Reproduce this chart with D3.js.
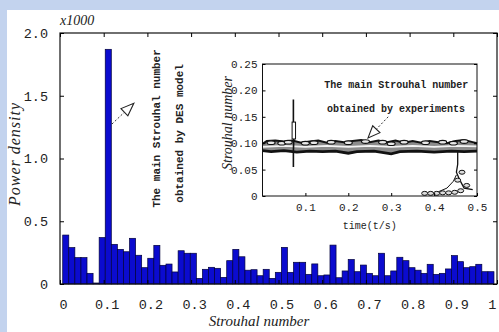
<!DOCTYPE html>
<html>
<head>
<meta charset="utf-8">
<script src="https://cdn.jsdelivr.net/npm/d3@7"></script>
<style>
  html, body { margin: 0; padding: 0; background: #c3d3ee; }
  svg { display: block; }
  .tick text { fill: #222; }
</style>
</head>
<body>
<svg id="chart" width="499" height="332"></svg>
<script>
// spectrum bins (power density, x1000)
const power = [
  0.39, 0.29, 0.21, 0.21, 0.085, 0.008, 0.37, 1.87, 0.316, 0.276,
  0.257, 0.364, 0.229, 0.13, 0.205, 0.308, 0.149, 0.159, 0.096, 0.265,
  0.245, 0.245, 0.045, 0.117, 0.133, 0.125, 0.053, 0.186, 0.276, 0.217,
  0.11, 0.114, 0.066, 0.117, 0.045, 0.093, 0.292, 0.093, 0.173, 0.173,
  0.077, 0.16, 0.066, 0.072, 0.31, 0.05, 0.104, 0.195, 0.098, 0.151,
  0.085, 0.066, 0.245, 0.066, 0.104, 0.213, 0.186, 0.13, 0.11, 0.085,
  0.157, 0.077, 0.085, 0.12, 0.226, 0.178, 0.13, 0.138, 0.157, 0.098, 0.098
];
const binStart = 0.0062;
const binWidth = 0.0139;
const xTicks = [0, 0.1, 0.2, 0.3, 0.4, 0.5, 0.6, 0.7, 0.8, 0.9, 1.0];
const yTicks = [0, 0.5, 1.0, 1.5, 2.0];

// inset: Strouhal number vs time (experiment)
const insetXTicks = [0.1, 0.2, 0.3, 0.4, 0.5];
const insetYTicks = [0, 0.05, 0.10, 0.15, 0.20, 0.25];
const bandTop = [
  [0.0, 0.099], [0.01, 0.104], [0.03, 0.105], [0.05, 0.103], [0.07, 0.105],
  [0.09, 0.101], [0.11, 0.103], [0.13, 0.105], [0.15, 0.101], [0.17, 0.104],
  [0.19, 0.102], [0.21, 0.104], [0.23, 0.106], [0.25, 0.102], [0.27, 0.105],
  [0.29, 0.102], [0.31, 0.105], [0.33, 0.101], [0.35, 0.104], [0.37, 0.101],
  [0.39, 0.104], [0.41, 0.102], [0.43, 0.100], [0.45, 0.104], [0.47, 0.106],
  [0.49, 0.102], [0.5, 0.100]
];
const bandBottom = [
  [0.0, 0.086], [0.02, 0.084], [0.05, 0.086], [0.08, 0.083], [0.11, 0.085],
  [0.14, 0.084], [0.17, 0.085], [0.2, 0.081], [0.22, 0.084], [0.26, 0.085],
  [0.3, 0.080], [0.32, 0.084], [0.36, 0.085], [0.4, 0.083], [0.44, 0.085],
  [0.47, 0.084], [0.5, 0.085]
];
const bandCenter = [
  [0.0, 0.093], [0.05, 0.095], [0.1, 0.093], [0.15, 0.095], [0.2, 0.093],
  [0.25, 0.095], [0.3, 0.093], [0.35, 0.095], [0.4, 0.093], [0.45, 0.095], [0.5, 0.094]
];
const spike = [[0.072, 0.055], [0.072, 0.085], [0.073, 0.11], [0.072, 0.14], [0.072, 0.183]];
const blobs = [
  [0.02, 0.101], [0.045, 0.1], [0.06, 0.102], [0.1, 0.1], [0.12, 0.101], [0.16, 0.102],
  [0.2, 0.101], [0.24, 0.103], [0.28, 0.102], [0.3, 0.099], [0.33, 0.102],
  [0.38, 0.101], [0.42, 0.102], [0.445, 0.1], [0.47, 0.103]
];
const tailRings = [
  [0.378, 0.005], [0.392, 0.005], [0.406, 0.005], [0.42, 0.006], [0.434, 0.006],
  [0.448, 0.007], [0.462, 0.01], [0.476, 0.02], [0.455, 0.03], [0.465, 0.045]
];
const tailLine = [[0.455, 0.084], [0.455, 0.06], [0.452, 0.045], [0.46, 0.03], [0.47, 0.015], [0.49, 0.012]];
const tailDiag = [[0.41, 0.008], [0.43, 0.015], [0.445, 0.028], [0.452, 0.04]];

const W = 499, H = 332;
const svg = d3.select("#chart");
const mono = "'Liberation Mono', 'DejaVu Sans Mono', monospace";
const serif = "'Liberation Serif', 'DejaVu Serif', serif";

// white panel
svg.append("rect").attr("x", 7).attr("y", 10)
  .attr("width", W - 7).attr("height", H - 10).attr("fill", "#fff");

const x = d3.scaleLinear().domain([0, 1]).range([60, 497]);
const y = d3.scaleLinear().domain([0, 2]).range([284, 33]);

// bars
svg.append("g").selectAll("rect").data(power).join("rect")
  .attr("x", (d, i) => x(binStart + i * binWidth))
  .attr("width", (d, i) => x(binStart + (i + 1) * binWidth) - x(binStart + i * binWidth))
  .attr("y", d => y(d))
  .attr("height", d => y(0) - y(d))
  .attr("fill", "#0b0bcf")
  .attr("stroke", "#00003a")
  .attr("stroke-width", 0.7);

// frame
svg.append("rect").attr("x", x(0)).attr("y", y(2))
  .attr("width", x(1) - x(0)).attr("height", y(0) - y(2))
  .attr("fill", "none").attr("stroke", "#111").attr("stroke-width", 1.2);

const fmt1 = d => d === 0 ? "0" : d3.format(".1f")(d);

const gx = svg.append("g").attr("transform", `translate(0,${y(0)})`)
  .call(d3.axisBottom(x).tickValues(xTicks).tickSizeInner(-4).tickSizeOuter(0)
    .tickPadding(15).tickFormat(fmt1));
gx.select(".domain").remove();
gx.selectAll("text").attr("dx", 3).style("font-family", mono).style("font-size", "13.5px");

const gxt = svg.append("g").attr("transform", `translate(0,${y(2)})`)
  .call(d3.axisTop(x).tickValues(xTicks).tickSizeInner(-4).tickSizeOuter(0).tickFormat(""));
gxt.select(".domain").remove();

const gy = svg.append("g").attr("transform", `translate(${x(0)},0)`)
  .call(d3.axisLeft(y).tickValues(yTicks).tickSizeInner(-4).tickSizeOuter(0)
    .tickPadding(12).tickFormat(fmt1));
gy.select(".domain").remove();
gy.selectAll("text").style("font-family", mono).style("font-size", "13.5px");

const gyr = svg.append("g").attr("transform", `translate(${x(1)},0)`)
  .call(d3.axisRight(y).tickValues(yTicks).tickSizeInner(-4).tickSizeOuter(0).tickFormat(""));
gyr.select(".domain").remove();

// axis titles
svg.append("text").attr("x", 60).attr("y", 25)
  .style("font-family", serif).style("font-style", "italic").style("font-size", "14px")
  .attr("fill", "#222").text("x1000");

svg.append("text").attr("transform", "translate(20,154) rotate(-90)")
  .attr("text-anchor", "middle")
  .style("font-family", serif).style("font-style", "italic").style("font-size", "16px")
  .style("letter-spacing", "1px").attr("fill", "#222").text("Power density");

svg.append("text").attr("x", 259).attr("y", 326).attr("text-anchor", "middle")
  .style("font-family", serif).style("font-style", "italic").style("font-size", "15px")
  .attr("fill", "#222").text("Strouhal number");

// DES annotation (vertical text + arrow)
const desLines = ["The main Strouhal number", "obtained by DES model"];
const desAnchor = [[0.229, 1.24], [0.282, 1.20]];
desLines.forEach((t, i) => {
  svg.append("text")
    .attr("transform", `translate(${x(desAnchor[i][0])},${y(desAnchor[i][1])}) rotate(-90)`)
    .attr("text-anchor", "middle")
    .style("font-family", mono).style("font-weight", "bold").style("font-size", "11px")
    .attr("fill", "#222").text(t);
});

function drawArrow(g, x0, y0, x1, y1, len, half) {
  const ang = Math.atan2(y1 - y0, x1 - x0);
  const bx = x1 - len * Math.cos(ang), by = y1 - len * Math.sin(ang);
  g.append("line").attr("x1", x0).attr("y1", y0).attr("x2", bx).attr("y2", by)
    .attr("stroke", "#333").attr("stroke-width", 1).attr("stroke-dasharray", "2,2");
  const px = -Math.sin(ang) * half, py = Math.cos(ang) * half;
  g.append("polygon")
    .attr("points", [[x1, y1], [bx + px, by + py], [bx - px, by - py]].map(p => p.join(",")).join(" "))
    .attr("fill", "#fff").attr("stroke", "#222").attr("stroke-width", 1.1);
}
const desArrow = [[0.119, 1.275], [0.169, 1.44]];
drawArrow(svg, x(desArrow[0][0]), y(desArrow[0][1]), x(desArrow[1][0]), y(desArrow[1][1]), 13, 5);

// ---- inset ----
const xi = d3.scaleLinear().domain([0, 0.5]).range([262.5, 477]);
const yi = d3.scaleLinear().domain([0, 0.25]).range([196, 64]);
const inset = svg.append("g");

inset.append("rect").attr("x", xi(0)).attr("y", yi(0.25))
  .attr("width", xi(0.5) - xi(0)).attr("height", yi(0) - yi(0.25))
  .attr("fill", "#fff");

const line = d3.line().x(d => xi(d[0])).y(d => yi(d[1]));
const area = d3.area()
  .x(d => xi(d[0]))
  .y0(d => yi(d3.least(bandBottom, b => Math.abs(b[0] - d[0]))[1]))
  .y1(d => yi(d[1]));

inset.append("path").datum(bandTop).attr("d", area)
  .attr("fill", "#8c8c8c").attr("stroke", "none");
inset.append("path").datum(bandTop).attr("d", line)
  .attr("fill", "none").attr("stroke", "#111").attr("stroke-width", 2);
inset.append("path").datum(bandBottom).attr("d", line)
  .attr("fill", "none").attr("stroke", "#111").attr("stroke-width", 2.8);
inset.append("path").datum(bandCenter).attr("d", line)
  .attr("fill", "none").attr("stroke", "#f4f4f4").attr("stroke-width", 1.6);
inset.selectAll("ellipse.blob").data(blobs).join("ellipse").attr("class", "blob")
  .attr("cx", d => xi(d[0])).attr("cy", d => yi(d[1]))
  .attr("rx", 4).attr("ry", 1.8)
  .attr("fill", "#e8e8e8").attr("stroke", "#111").attr("stroke-width", 1.1);
inset.append("path").datum(spike).attr("d", line)
  .attr("fill", "none").attr("stroke", "#111").attr("stroke-width", 1.6);
inset.append("rect").attr("x", xi(0.069)).attr("y", yi(0.14))
  .attr("width", xi(0.077) - xi(0.069)).attr("height", yi(0.108) - yi(0.14))
  .attr("fill", "#fff").attr("stroke", "#111").attr("stroke-width", 1);
inset.append("path").datum(tailLine).attr("d", line)
  .attr("fill", "none").attr("stroke", "#111").attr("stroke-width", 1.3);
inset.append("path").datum(tailDiag).attr("d", line)
  .attr("fill", "none").attr("stroke", "#111").attr("stroke-width", 1);
inset.selectAll("ellipse.ring").data(tailRings).join("ellipse").attr("class", "ring")
  .attr("cx", d => xi(d[0])).attr("cy", d => yi(d[1]))
  .attr("rx", 3).attr("ry", 2)
  .attr("fill", "#ddd").attr("stroke", "#111").attr("stroke-width", 1);

inset.append("rect").attr("x", xi(0)).attr("y", yi(0.25))
  .attr("width", xi(0.5) - xi(0)).attr("height", yi(0) - yi(0.25))
  .attr("fill", "none").attr("stroke", "#111").attr("stroke-width", 1);

const ix = inset.append("g").attr("transform", `translate(0,${yi(0)})`)
  .call(d3.axisBottom(xi).tickValues(insetXTicks).tickSizeInner(-3).tickSizeOuter(0)
    .tickPadding(7).tickFormat(d3.format(".1f")));
ix.select(".domain").remove();
ix.selectAll("text").style("font-family", mono).style("font-size", "11px");

const iy = inset.append("g").attr("transform", `translate(${xi(0)},0)`)
  .call(d3.axisLeft(yi).tickValues(insetYTicks).tickSizeInner(-3).tickSizeOuter(0)
    .tickPadding(5).tickFormat(d => d === 0 ? "0" : d3.format(".2f")(d)));
iy.select(".domain").remove();
iy.selectAll("text").style("font-family", mono).style("font-size", "11px");

const iyr = inset.append("g").attr("transform", `translate(${xi(0.5)},0)`)
  .call(d3.axisRight(yi).tickValues(insetYTicks).tickSizeInner(-3).tickSizeOuter(0).tickFormat(""));
iyr.select(".domain").remove();

inset.append("text").attr("x", xi(0.25)).attr("y", 229).attr("text-anchor", "middle")
  .style("font-family", mono).style("font-size", "10px").attr("fill", "#222").text("time(t/s)");

inset.append("text").attr("transform", "translate(232,123) rotate(-90)")
  .attr("text-anchor", "middle")
  .style("font-family", serif).style("font-style", "italic").style("font-size", "14px")
  .attr("fill", "#222").text("Strouhal number");

const expLines = ["The main Strouhal number", "obtained by experiments"];
const expAnchor = [[0.312, 0.204], [0.311, 0.159]];
expLines.forEach((t, i) => {
  inset.append("text").attr("x", xi(expAnchor[i][0])).attr("y", yi(expAnchor[i][1]))
    .attr("text-anchor", "middle")
    .style("font-family", mono).style("font-weight", "bold").style("font-size", "10px")
    .attr("fill", "#222").text(t);
});
const expArrow = [[0.293, 0.15], [0.246, 0.11]];
drawArrow(inset, xi(expArrow[0][0]), yi(expArrow[0][1]), xi(expArrow[1][0]), yi(expArrow[1][1]), 12, 5);
</script>
</body>
</html>
